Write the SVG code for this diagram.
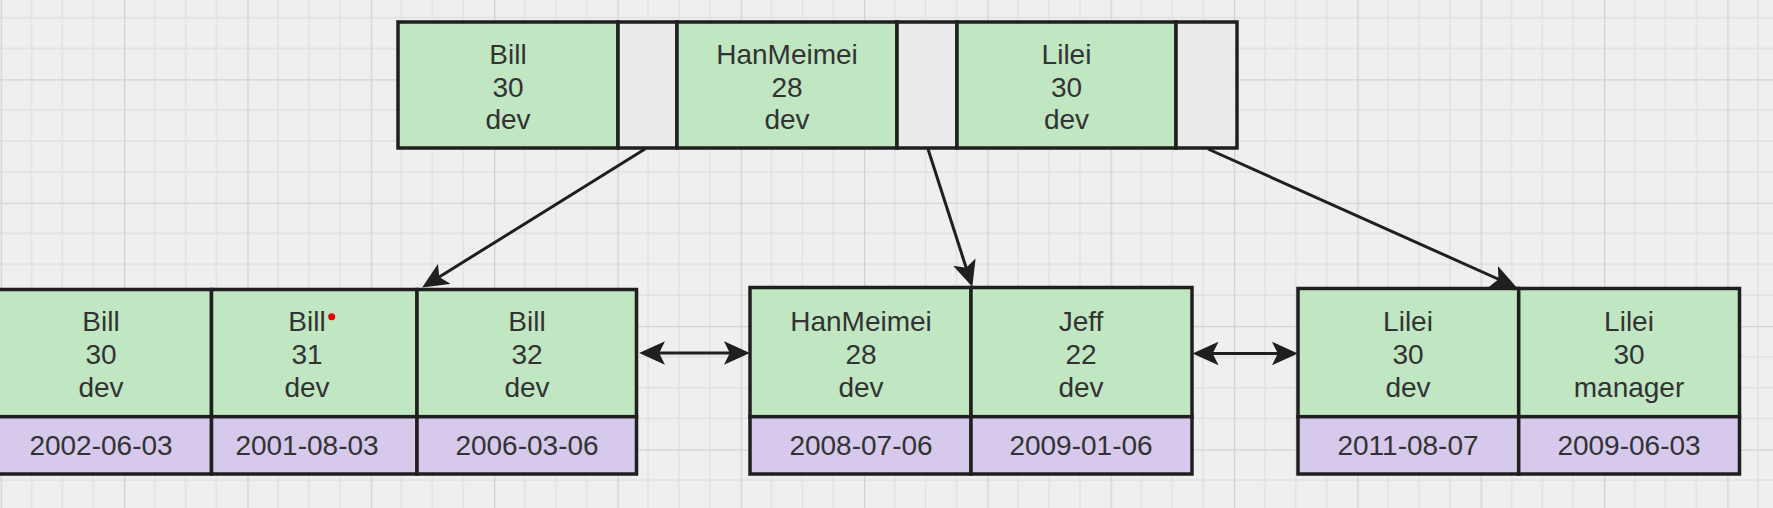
<svg xmlns="http://www.w3.org/2000/svg" width="1773" height="508" viewBox="0 0 1773 508">
<defs>
<style>
.g{fill:#c0e6c2;stroke:#1f1f1f;stroke-width:3.5}
.p{fill:#d6c9ec;stroke:#1f1f1f;stroke-width:3.5}
.e{fill:#ebebeb;stroke:#1f1f1f;stroke-width:3.5}
.t{font-family:"Liberation Sans",Arial,sans-serif;font-size:28px;fill:#333;text-anchor:middle}
.c{fill:none;stroke:#1f1f1f;stroke-width:3}
</style>
<pattern id="grid" patternUnits="userSpaceOnUse" x="0.67" y="79.3" width="123.33" height="123.33">
<rect width="123.33" height="123.33" fill="#efefef"/>
<path d="M30.83,0V123.33M61.67,0V123.33M92.5,0V123.33M0,30.83H123.33M0,61.67H123.33M0,92.5H123.33" stroke="#e1e1e1" stroke-width="1.3"/>
<path d="M0.6,0V123.33M0,0.6H123.33" stroke="#d3d3d3" stroke-width="1.5"/>
</pattern>
<marker id="ah" markerUnits="userSpaceOnUse" markerWidth="26" markerHeight="24" viewBox="0 0 22 20" refX="17" refY="10" orient="auto-start-reverse">
<path d="M0,0 L22,10 L0,20 L5,10 Z" fill="#1f1f1f"/>
</marker>
</defs>
<rect width="1773" height="508" fill="url(#grid)"/>

<g id="root">
<rect class="g" x="398" y="22" width="220" height="126"/>
<rect class="e" x="618" y="22" width="59" height="126"/>
<rect class="g" x="677" y="22" width="220" height="126"/>
<rect class="e" x="897" y="22" width="60" height="126"/>
<rect class="g" x="957" y="22" width="219" height="126"/>
<rect class="e" x="1176" y="22" width="61" height="126"/>
<text class="t" x="508" y="64">Bill</text>
<text class="t" x="508" y="96.5">30</text>
<text class="t" x="508" y="129">dev</text>
<text class="t" x="787" y="64">HanMeimei</text>
<text class="t" x="787" y="96.5">28</text>
<text class="t" x="787" y="129">dev</text>
<text class="t" x="1066.5" y="64">Lilei</text>
<text class="t" x="1066.5" y="96.5">30</text>
<text class="t" x="1066.5" y="129">dev</text>
</g>

<g id="leaf1">
<rect class="g" x="-9" y="289.5" width="220.5" height="127.2"/>
<rect class="g" x="211.5" y="289.5" width="205.5" height="127.2"/>
<rect class="g" x="417" y="289.5" width="219.5" height="127.2"/>
<rect class="p" x="-9" y="416.7" width="220.5" height="57.3"/>
<rect class="p" x="211.5" y="416.7" width="205.5" height="57.3"/>
<rect class="p" x="417" y="416.7" width="219.5" height="57.3"/>
<text class="t" x="101" y="330.7">Bill</text>
<text class="t" x="101" y="364">30</text>
<text class="t" x="101" y="396.5">dev</text>
<text class="t" x="101" y="455">2002-06-03</text>
<text class="t" x="307" y="330.7">Bill</text>
<circle cx="331.7" cy="316.7" r="3.5" fill="#e8000b"/>
<text class="t" x="307" y="364">31</text>
<text class="t" x="307" y="396.5">dev</text>
<text class="t" x="307" y="455">2001-08-03</text>
<text class="t" x="527" y="330.7">Bill</text>
<text class="t" x="527" y="364">32</text>
<text class="t" x="527" y="396.5">dev</text>
<text class="t" x="527" y="455">2006-03-06</text>
</g>

<g id="leaf2">
<rect class="g" x="750" y="287.5" width="221" height="129.2"/>
<rect class="g" x="971" y="287.5" width="221" height="129.2"/>
<rect class="p" x="750" y="416.7" width="221" height="57.3"/>
<rect class="p" x="971" y="416.7" width="221" height="57.3"/>
<text class="t" x="861" y="330.7">HanMeimei</text>
<text class="t" x="861" y="364">28</text>
<text class="t" x="861" y="396.5">dev</text>
<text class="t" x="861" y="455">2008-07-06</text>
<text class="t" x="1081" y="330.7">Jeff</text>
<text class="t" x="1081" y="364">22</text>
<text class="t" x="1081" y="396.5">dev</text>
<text class="t" x="1081" y="455">2009-01-06</text>
</g>

<g id="leaf3">
<rect class="g" x="1298" y="288.5" width="220.7" height="128.2"/>
<rect class="g" x="1518.7" y="288.5" width="220.8" height="128.2"/>
<rect class="p" x="1298" y="416.7" width="220.7" height="57.3"/>
<rect class="p" x="1518.7" y="416.7" width="220.8" height="57.3"/>
<text class="t" x="1408" y="330.7">Lilei</text>
<text class="t" x="1408" y="364">30</text>
<text class="t" x="1408" y="396.5">dev</text>
<text class="t" x="1408" y="455">2011-08-07</text>
<text class="t" x="1629" y="330.7">Lilei</text>
<text class="t" x="1629" y="364">30</text>
<text class="t" x="1629" y="396.5">manager</text>
<text class="t" x="1629" y="455">2009-06-03</text>
</g>

<g id="connectors">
<path class="c" d="M645,149 L427.2,284.4" marker-end="url(#ah)"/>
<path class="c" d="M928,149 L970.5,281.2" marker-end="url(#ah)"/>
<path class="c" d="M1208,149 L1511.4,285" marker-end="url(#ah)"/>
<path class="c" d="M645,353 L744,353" marker-start="url(#ah)" marker-end="url(#ah)"/>
<path class="c" d="M1198.5,353.5 L1292,353.5" marker-start="url(#ah)" marker-end="url(#ah)"/>
</g>
</svg>
